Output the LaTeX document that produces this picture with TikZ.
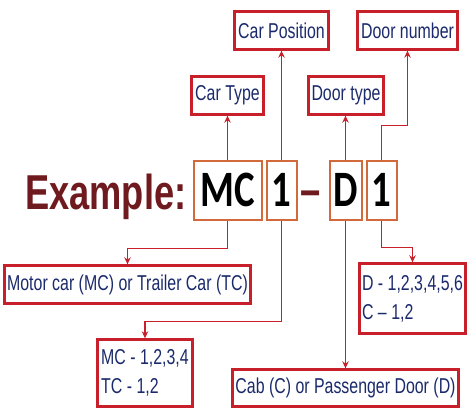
\documentclass[tikz,border=0pt]{standalone}
\usepackage{fontspec}
\usetikzlibrary{arrows.meta}
\newfontfamily\lblfont{Liberation Sans}[FakeStretch=0.74]
\newfontfamily\exfont{Liberation Sans}[FakeStretch=0.74]
\newfontfamily\bigfont{Carlito}[FakeStretch=0.76]
\definecolor{boxred}{HTML}{C8202A}
\definecolor{navy}{HTML}{1B2A6B}
\definecolor{boxorange}{HTML}{D2693A}
\definecolor{maroon}{HTML}{6E1A1E}
\tikzset{
  lbl/.style={draw=boxred, line width=2.4pt, fill=white, text=navy, inner sep=0pt,
    font=\lblfont\fontsize{21.5}{29}\selectfont, align=left},
  bigbox/.style={draw=boxorange, line width=2pt, fill=white, text=black, inner sep=0pt,
    minimum height=59, font=\bigfont\bfseries\fontsize{51}{51}\selectfont, text height=32pt, text depth=0pt},
  arr/.style={draw=boxred, line width=1.7pt, -{Stealth[length=7pt,width=6.5pt]}},
}
\begin{document}
\begin{tikzpicture}[x=1pt,y=-1pt]
\useasboundingbox (0,0) rectangle (475,417);
% label boxes
\node[lbl, minimum width=94, minimum height=38] (carpos) at (281.5,30.5) {Car Position};
\node[lbl, minimum width=100, minimum height=38] (doornum) at (407.5,30.5) {Door number};
\node[lbl, minimum width=72, minimum height=38] (cartype) at (227.5,95.5) {Car Type};
\node[lbl, minimum width=75, minimum height=38] (doortype) at (346,95.5) {Door type};
\node[lbl, minimum width=246, minimum height=38] (motor) at (127.5,284.5) {Motor car (MC) or Trailer Car (TC)};
\node[lbl, minimum width=95, minimum height=67] (mcnum) at (145,373) {MC - 1,2,3,4\\TC - 1,2};
\node[lbl, minimum width=226, minimum height=37] (cab) at (345.5,388) {Cab (C) or Passenger Door (D)};
\node[lbl, minimum width=106, minimum height=70] (dnum) at (412.5,298.5) {D - 1,2,3,4,5,6\\C – 1,2};
% example code
\node[anchor=base west, inner sep=0pt, text=maroon, font=\exfont\bfseries\fontsize{49}{49}\selectfont] (ex) at (25,210) {Example:};
\node[bigbox, minimum width=68] (mc) at (227.5,191) {MC};
\node[bigbox, minimum width=30] (one1) at (281.5,191) {1};
\node[anchor=base, inner sep=0pt, text=maroon, font=\exfont\bfseries\fontsize{49}{49}\selectfont] (dash) at (310.5,207) {–};
\node[bigbox, minimum width=32] (d) at (345.5,191) {D};
\node[bigbox, minimum width=30] (one2) at (381.5,191) {1};
% connectors up
\draw[arr] (mc.north) -- (cartype.south);
\draw[arr] (one1.north) -- (carpos.south);
\draw[arr] (d.north) -- (d.north |- doortype.south);
\draw[arr] (one2.north) -- ++(0,-35) -| (doornum.south);
% connectors down
\draw[arr] (mc.south) -- ++(0,27) -| (motor.north);
\draw[arr] (one1.south) -- ++(0,100) -| (mcnum.north);
\draw[arr] (d.south) -- (d.south |- cab.north);
\draw[arr] (one2.south) -- ++(0,26) -| (dnum.north);
\end{tikzpicture}
\end{document}
